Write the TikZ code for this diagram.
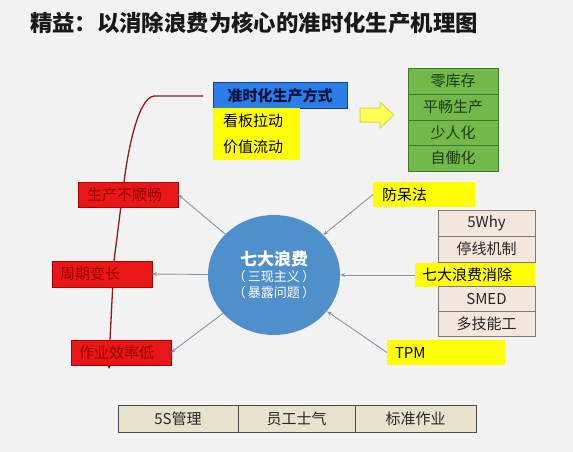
\documentclass[tikz,border=0pt]{standalone}
\usepackage{fontspec}
\setmainfont{Noto Sans CJK SC}
\usetikzlibrary{arrows.meta,shapes.geometric}
\pgfdeclarelayer{bg}
\pgfsetlayers{bg,main}
\definecolor{bgc}{HTML}{F2F2F2}
\definecolor{redfill}{HTML}{E81616}
\definecolor{redborder}{HTML}{A80000}
\definecolor{redtext}{HTML}{9A0000}
\definecolor{bluefill}{HTML}{2B7DE9}
\definecolor{blueborder}{HTML}{1B3F8F}
\definecolor{bluetext}{HTML}{06143F}
\definecolor{yel}{HTML}{FFFF00}
\definecolor{greenfill}{HTML}{72B84A}
\definecolor{greenborder}{HTML}{3E7A28}
\definecolor{greentext}{HTML}{1E3A10}
\definecolor{beige}{HTML}{F4E6DC}
\definecolor{beigeborder}{HTML}{7A7A7A}
\definecolor{tan}{HTML}{E6E2CC}
\definecolor{circfill}{HTML}{4F8FCB}
\definecolor{arrgray}{HTML}{8894A8}
\definecolor{redline}{HTML}{8B1C1C}
\definecolor{fatyel}{HTML}{FFFF55}
\definecolor{fatborder}{HTML}{D4D45A}
\tikzset{
  box/.style={anchor=north west, inner ysep=0pt, outer sep=0pt, font=\fontsize{15}{15}\selectfont},
  ltbox/.style n args={3}{box, minimum height=#2, text width=#1-2*#3, inner xsep=#3, align=left},
  ctbox/.style n args={2}{box, minimum width=#1, minimum height=#2, inner xsep=0pt, align=center},
  redbox/.style={draw=redborder, fill=redfill, text=redtext, line width=0.8pt},
  yelbox/.style={fill=yel, text=black},
  greenbox/.style={draw=greenborder, fill=greenfill, text=greentext, line width=0.8pt},
  beigebox/.style={draw=beigeborder, fill=beige, text=black!85, line width=0.8pt},
  tanbox/.style={draw=black!70, fill=tan, text=black!85, line width=0.8pt},
  bluebox/.style={draw=blueborder, fill=bluefill, line width=1pt, text=bluetext},
  garrow/.style={draw=arrgray, line width=0.9pt, -{Stealth[length=5pt,width=4pt]}},
}
\begin{document}
\begin{tikzpicture}[x=1pt,y=-1pt]
\begin{pgfonlayer}{bg}
\fill[bgc] (0,0) rectangle (573,452);
\end{pgfonlayer}
\useasboundingbox (0,0) rectangle (573,452);

% title
\node[font=\fontsize{22.4}{22.4}\selectfont\bfseries, text=black!90] (title) at (254,23) {精益：以消除浪费为核心的准时化生产机理图};

% blue + yellow top-left
\node[ctbox={134pt}{25pt}, bluebox, font=\fontsize{15}{15}\selectfont\bfseries] (jit) at (213,83) {\textcolor{bluetext}{准时化生产方式}};
\node[ltbox={87pt}{52pt}{10pt}, yelbox, font=\fontsize{15}{26}\selectfont] (kanban) at (213,108) {看板拉动\\价值流动};

% fat yellow arrow
\path[fill=fatyel, draw=fatborder, line width=1pt] (360,108) -- (380,108) -- (380,102) -- (394,115) -- (380,128) -- (380,122) -- (360,122) -- cycle;

% green stack
\node[ctbox={90pt}{26pt}, greenbox] (g1) at (408,68) {零库存};
\node[ctbox={90pt}{26pt}, greenbox] (g2) at (408,94) {平畅生产};
\node[ctbox={90pt}{25pt}, greenbox] (g3) at (408,120) {少人化};
\node[ctbox={90pt}{26pt}, greenbox] (g4) at (408,145) {自働化};

% red boxes
\node[ltbox={100pt}{25pt}{9pt}, redbox] (r1) at (78,182) {生产不顺畅};
\node[ltbox={100pt}{26pt}{8pt}, redbox] (r2) at (52,261) {周期变长};
\node[ltbox={100pt}{25pt}{8pt}, redbox] (r3) at (71,340) {作业效率低};

% circle
\node[ellipse, fill=circfill, minimum width=132pt, minimum height=120pt, inner sep=0pt, text=white, align=center, font=\fontsize{13}{16}\selectfont] (circ) at (274,275)
  {{\fontsize{17}{17}\selectfont\bfseries 七大浪费}\\[0pt]（\,三现主义\,）\\（\,暴露问题\,）};

% right yellow boxes
\node[ltbox={102pt}{25pt}{9pt}, yelbox] (fang) at (373,182) {防呆法};
\node[ltbox={120pt}{24pt}{7pt}, yelbox] (xiao) at (415,263) {七大浪费消除};
\node[ltbox={118pt}{25pt}{8pt}, yelbox] (tpm) at (387,340) {TPM};

% beige boxes
\node[ctbox={97pt}{26pt}, beigebox] (why) at (438,210) {5Why};
\node[ctbox={97pt}{26pt}, beigebox] (stop) at (438,236) {停线机制};
\node[ctbox={97pt}{25pt}, beigebox] (smed) at (438,286) {SMED};
\node[ctbox={97pt}{25pt}, beigebox] (multi) at (438,311) {多技能工};

% bottom table
\node[ctbox={120pt}{27pt}, tanbox] (t1) at (118,405) {5S管理};
\node[ctbox={117pt}{27pt}, tanbox] (t2) at (238,405) {员工士气};
\node[ctbox={121pt}{27pt}, tanbox] (t3) at (355,405) {标准作业};

% red flow line
\coordinate (rs) at (203,96);
\coordinate (rend) at (109,369);
\coordinate (p1) at (124,182);
\coordinate (p2) at (114,261);
\coordinate (p3) at (110,340);
\begin{pgfonlayer}{bg}
\draw[redline, line width=1.3pt, -{Stealth[length=4pt,width=4pt]}]
  (rs) -- (154,96) .. controls (138,98) and (128,150) .. (p1)
  -- (p2) -- (p3) -- (rend);
\end{pgfonlayer}

% gray arrows
\draw[garrow] (circ) -- (r1.east);
\draw[garrow] (circ) -- (r2.east);
\draw[garrow] (circ) -- (r3.east);
\draw[garrow] (fang.west) -- (circ);
\draw[garrow] (xiao.west) -- (circ);
\draw[garrow] (tpm.west) -- (circ);
\end{tikzpicture}
\end{document}
